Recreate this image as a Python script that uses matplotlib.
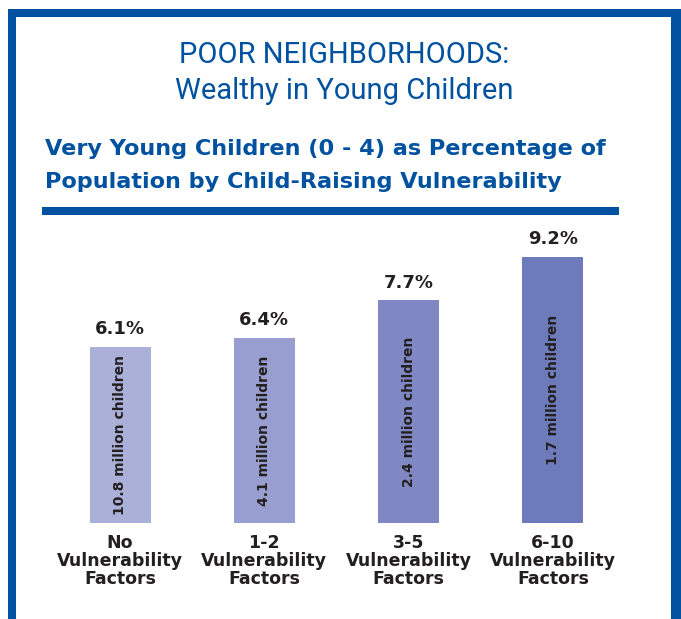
import matplotlib.pyplot as plt
from matplotlib.patches import Rectangle

categories = ['No\nVulnerability\nFactors', '1-2\nVulnerability\nFactors',
              '3-5\nVulnerability\nFactors', '6-10\nVulnerability\nFactors']
percent = [6.1, 6.4, 7.7, 9.2]
children = ['10.8 million children', '4.1 million children',
            '2.4 million children', '1.7 million children']
colors = ['#abb0d9', '#989ecf', '#8088c4', '#6d7bbb']

W, H = 681, 619
BLUE = '#0052a0'
DARK = '#231f20'

fig = plt.figure(figsize=(W / 100, H / 100), dpi=100)


def px(x, y):
    # pixel coords from top-left -> figure fraction
    return x / W, 1 - y / H


def box(x0, y0, x1, y1, color):
    fx, fy = px(x0, y1)
    fig.patches.append(Rectangle((fx, fy), (x1 - x0) / W, (y1 - y0) / H,
                                 transform=fig.transFigure, color=color, lw=0))


# frame
box(8, 9, 681, 17, BLUE)
box(8, 9, 16, 619, BLUE)
box(671, 9, 681, 619, BLUE)
# rule under subtitle
box(42, 207, 619, 215, BLUE)

# titles
fig.text(*px(344, 55), 'POOR NEIGHBORHOODS:', ha='center', va='center',
         color=BLUE, fontsize=21, family='Roboto', fontweight='normal')
fig.text(*px(344, 91), 'Wealthy in Young Children', ha='center', va='center',
         color=BLUE, fontsize=21, family='Roboto', fontweight='normal')
fig.text(*px(45, 149), 'Very Young Children (0 - 4) as Percentage of',
         ha='left', va='center', color=BLUE, fontsize=16.1,
         family='DejaVu Sans', fontweight='bold')
fig.text(*px(45, 182), 'Population by Child-Raising Vulnerability',
         ha='left', va='center', color=BLUE, fontsize=16.1,
         family='DejaVu Sans', fontweight='bold')

# bar axes: baseline at y=523 px, 28.9 px per unit; centers 120..553 px
step = 144.3
left_px, right_px = 40, 640
bottom_px, top_px = 523, 230
ax = fig.add_axes([left_px / W, 1 - bottom_px / H,
                   (right_px - left_px) / W, (bottom_px - top_px) / H])
ax.set_xlim((left_px - 120) / step, (right_px - 120) / step)
ax.set_ylim(0, (bottom_px - top_px) / 28.9)

xs = range(len(percent))
ax.bar(xs, percent, width=61 / step, color=colors)

for i, (p, c) in enumerate(zip(percent, children)):
    ax.text(i, p + 0.3, f'{p}%', ha='center', va='bottom', fontsize=13,
            fontweight='bold', color=DARK)
    ax.text(i, p / 2, c, ha='center', va='center', rotation=90,
            fontsize=10, fontweight='bold', color=DARK)

ax.set_xticks(list(xs))
ax.set_xticklabels(categories, fontsize=12.5, fontweight='bold', color=DARK,
                   linespacing=1.0)
ax.tick_params(axis='x', length=0, pad=8)
ax.set_yticks([])
for s in ax.spines.values():
    s.set_visible(False)
ax.patch.set_alpha(0)

fig.savefig('out.png', dpi=100)
